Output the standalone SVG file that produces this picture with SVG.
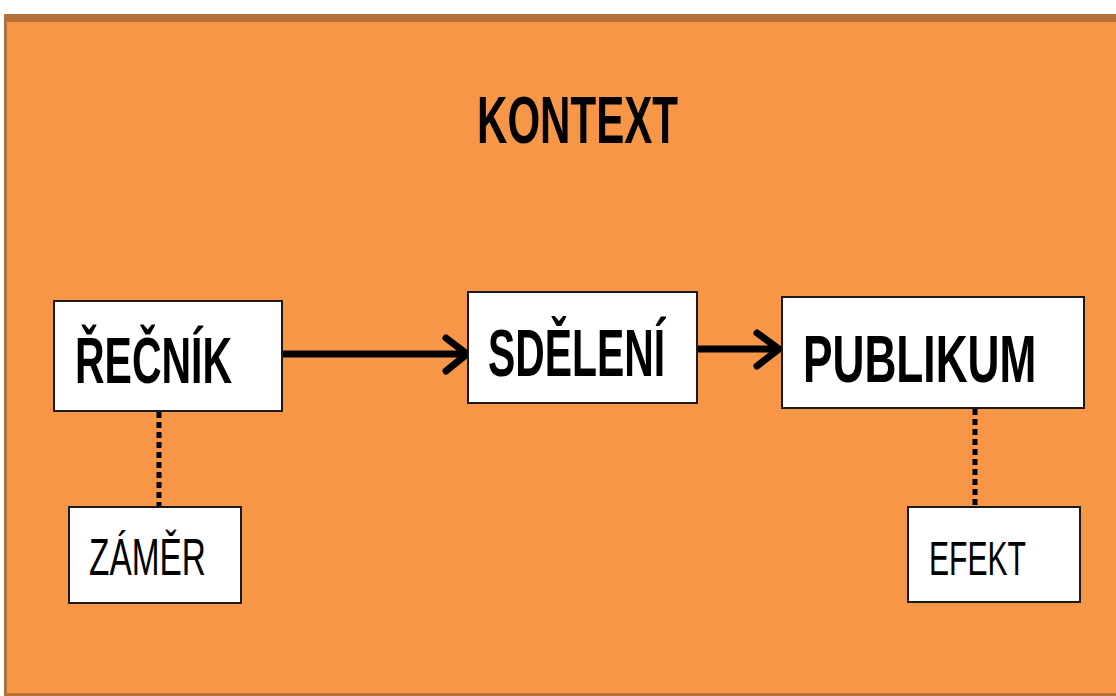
<svg xmlns="http://www.w3.org/2000/svg" width="1116" height="696" viewBox="0 0 1116 696">
<style>
.box{fill:#fff;stroke:#1a1a1a;stroke-width:2}
.big{font-family:"Liberation Sans",Arial,sans-serif;font-weight:bold;fill:#000}
.small{font-family:"Liberation Sans",Arial,sans-serif;font-weight:normal;fill:#000}
.arrow{stroke:#000;stroke-width:7;fill:none;stroke-linecap:round;stroke-linejoin:round}
.dot{stroke:#000;stroke-width:5;stroke-dasharray:6 4;fill:none}
</style>
<rect x="0" y="0" width="1116" height="696" fill="#fff"/>
<g id="kontext">
<rect x="4" y="14" width="1112" height="682" fill="#B5713A"/>
<rect x="7" y="22" width="1109" height="671" fill="#F79646"/>
<text class="big" transform="translate(477,143) scale(0.628,1)" font-size="67">KONTEXT</text>
</g>
<g id="connectors">
<path class="arrow" d="M282 354 H466 M446 338 L467 354 L446 371"/>
<path class="arrow" d="M697 349 H778 M757 333 L779 349 L757 366"/>
<path class="dot" d="M159 412 V507"/>
<path class="dot" d="M975 409 V507"/>
</g>
<g id="recnik">
<rect class="box" x="54" y="301" width="228" height="110"/>
<text class="big" transform="translate(75,383) scale(0.64,1)" font-size="64">ŘEČNÍK</text>
</g>
<g id="sdeleni">
<rect class="box" x="468" y="292" width="229" height="111"/>
<text class="big" transform="translate(488,376) scale(0.61,1)" font-size="67">SDĚLENÍ</text>
</g>
<g id="publikum">
<rect class="box" x="782" y="297" width="302" height="111"/>
<text class="big" transform="translate(803,382) scale(0.66,1)" font-size="67">PUBLIKUM</text>
</g>
<g id="zamer">
<rect class="box" x="69" y="507" width="172" height="96"/>
<text class="small" transform="translate(89,575) scale(0.655,1)" font-size="51">ZÁMĚR</text>
</g>
<g id="efekt">
<rect class="box" x="908" y="507" width="172" height="95"/>
<text class="small" transform="translate(929,575) scale(0.614,1)" font-size="49">EFEKT</text>
</g>
</svg>
